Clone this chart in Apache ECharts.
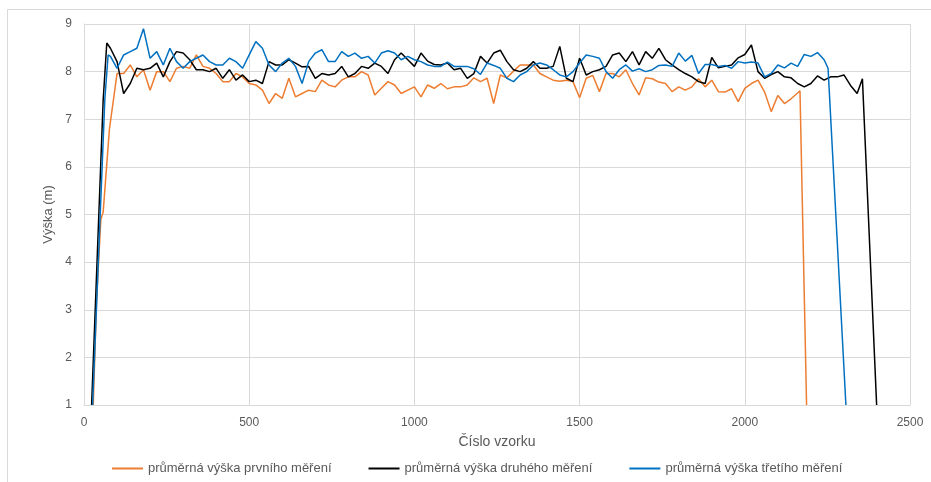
<!DOCTYPE html>
<html>
<head>
<meta charset="utf-8">
<script src="https://cdn.jsdelivr.net/npm/echarts@6/dist/echarts.min.js"></script>
<style>
html,body{margin:0;padding:0;background:#fff;}
#graf{width:931px;height:482px;}
</style>
</head>
<body>
<div id="graf"></div>
<script>
// cislo vzorku (krok 20)
var vzorky = [];
for (var n = 80; n <= 2340; n += 20) vzorky.push(n);

// nabeh a konec mereni [vzorek, vyska]
var nabehPrvni = [[28,1],[38,3.2],[51,4.9],[58,5.05],[77,6.8]];
var konecPrvni = [[2167,7.6],[2187,1]];
var nabehDruhy = [[23,1],[58,7.4],[69,8.6]];
var konecDruhy = [[2356,7.85],[2399,1]];
var nabehTreti = [[26,1],[63,7.41],[73,8.35]];
var konecTreti = [[2252,8.07],[2306,1]];

var prvni = [
  6.95,7.96,7.96,8.14,7.89,8.04,7.61,8.0,8.0,7.79,8.07,8.11,8.07,8.35,8.11,8.07,7.96,7.79,7.79,7.96,7.89,7.75,7.72,7.61,7.33,7.54,7.44,7.86,
  7.47,7.54,7.61,7.58,7.82,7.72,7.68,7.82,7.89,7.89,8.0,7.93,7.51,7.65,7.79,7.72,7.54,7.61,7.68,7.47,7.72,7.65,7.75,7.64,7.68,7.68,7.72,7.87,7.79,7.86,7.33,7.93,
  7.87,8.01,8.14,8.14,8.14,7.96,7.89,7.82,7.8,7.82,7.79,7.45,7.86,7.92,7.58,7.96,7.96,7.89,8.04,7.75,7.51,7.87,7.85,7.78,7.75,7.58,7.68,7.61,7.68,7.85,
  7.68,7.82,7.58,7.57,7.64,7.37,7.65,7.75,7.82,7.57,7.16,7.5,7.33,7.43,7.55,null,null,null,null,null,null,null,null,null
];
var druhy = [
  8.49,8.21,7.54,7.75,8.07,8.04,8.07,8.18,7.89,8.21,8.42,8.39,8.25,8.04,8.04,8.0,8.07,7.86,8.04,7.82,7.93,7.79,7.82,7.75,8.21,8.14,8.14,8.25,
  8.18,8.1,8.11,7.86,7.96,7.93,7.96,8.11,7.89,7.96,8.11,8.07,8.18,8.11,7.96,8.25,8.39,8.25,8.11,8.39,8.22,8.15,8.14,8.18,8.04,8.07,7.86,7.96,8.32,8.18,8.39,8.45,
  8.21,8.04,8.0,8.07,8.21,8.07,8.07,8.11,8.53,7.86,7.79,8.28,7.93,8.0,8.04,8.11,8.35,8.39,8.21,8.42,8.14,8.42,8.28,8.49,8.25,8.14,8.04,7.96,7.89,7.79,
  7.75,8.3,8.08,8.11,8.14,8.29,8.36,8.56,8.0,7.86,7.94,8.0,7.89,7.87,7.75,7.68,7.75,7.91,7.82,7.89,7.89,7.93,7.71,7.54
];
var treti = [
  8.32,8.07,8.35,8.42,8.49,8.9,8.28,8.42,8.14,8.49,8.21,8.07,8.21,8.28,8.35,8.21,8.14,8.14,8.28,8.21,8.07,8.35,8.63,8.49,8.14,8.0,8.18,8.28,
  8.11,7.75,8.21,8.39,8.46,8.21,8.21,8.42,8.32,8.39,8.28,8.32,8.18,8.39,8.44,8.39,8.25,8.32,8.25,8.21,8.14,8.11,8.11,8.2,8.11,8.11,8.11,8.06,7.94,8.18,8.13,8.07,
  7.86,7.79,7.93,8.0,8.14,8.18,8.14,8.04,7.93,7.89,8.0,8.18,8.35,8.32,8.28,8.0,7.86,8.04,8.14,8.01,8.06,8.0,8.04,8.13,8.14,8.11,8.39,8.22,8.34,7.96,
  8.15,8.15,8.11,8.13,8.07,8.21,8.18,8.2,8.18,7.89,7.96,8.14,8.08,8.18,8.11,8.36,8.32,8.4,8.25,null,null,null,null,null
];

var nazvy = ['průměrná výška prvního měření', 'průměrná výška druhého měření', 'průměrná výška třetího měření'];
var barvy = ['#ED7D31', '#000000', '#0070C0'];

function sestav(nabeh, hodnoty, konec) {
  var out = nabeh.slice();
  for (var i = 0; i < vzorky.length; i++) {
    if (hodnoty[i] != null) out.push([vzorky[i], hodnoty[i]]);
  }
  return out.concat(konec);
}

var pismo = 'Liberation Sans';
var seda = '#595959';

var option = {
  animation: false,
  textStyle: { fontFamily: pismo },
  graphic: [{
    type: 'rect', silent: true, z: -1,
    shape: { x: 7.5, y: 9.5, width: 1000, height: 1000 },
    style: { fill: 'none', stroke: '#d9d9d9', lineWidth: 1 }
  }],
  legend: {
    left: 107, top: 457,
    itemWidth: 31, itemHeight: 2, itemGap: 37,
    icon: 'rect',
    textStyle: { color: seda, fontSize: 13, fontFamily: pismo },
    data: nazvy
  },
  grid: { left: 84, right: 21, top: 24, bottom: 77 },
  xAxis: {
    type: 'value',
    min: 0, max: 2500, interval: 500,
    name: 'Číslo vzorku',
    nameLocation: 'middle',
    nameGap: 30,
    nameTextStyle: { color: seda, fontSize: 14, fontFamily: pismo },
    axisLine: { lineStyle: { color: '#d9d9d9' } },
    axisTick: { show: false },
    axisLabel: { color: seda, fontSize: 12, margin: 12, formatter: function (v) { return String(v); } },
    splitLine: { lineStyle: { color: '#d9d9d9' } }
  },
  yAxis: {
    type: 'value',
    min: 1, max: 9, interval: 1,
    name: 'Výška (m)',
    nameLocation: 'middle',
    nameGap: 23,
    nameTextStyle: { color: seda, fontSize: 13, fontFamily: pismo },
    axisLine: { show: true, lineStyle: { color: '#d9d9d9' } },
    axisTick: { show: false },
    axisLabel: { color: seda, fontSize: 12, margin: 12 },
    splitLine: { lineStyle: { color: '#d9d9d9' } }
  },
  series: [
    { name: nazvy[0], type: 'line', showSymbol: false, color: barvy[0], lineStyle: { width: 1.5 }, data: sestav(nabehPrvni, prvni, konecPrvni) },
    { name: nazvy[1], type: 'line', showSymbol: false, color: barvy[1], lineStyle: { width: 1.5 }, data: sestav(nabehDruhy, druhy, konecDruhy) },
    { name: nazvy[2], type: 'line', showSymbol: false, color: barvy[2], lineStyle: { width: 1.5 }, data: sestav(nabehTreti, treti, konecTreti) }
  ]
};

var graf = echarts.init(document.getElementById('graf'));
graf.setOption(option);
</script>
</body>
</html>
